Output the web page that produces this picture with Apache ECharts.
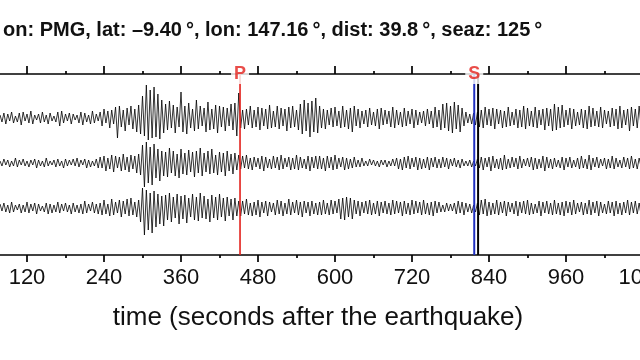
<!DOCTYPE html>
<html><head><meta charset="utf-8">
<script src="https://cdn.jsdelivr.net/npm/echarts@6/dist/echarts.min.js"></script>
<style>html,body{margin:0;padding:0;background:#fff}#c{width:640px;height:360px}</style>
</head><body><div id="c"></div>
<script>
// ---- data ----
const titleText = 'on: PMG, lat: \u20139.40\u2009\u00b0, lon: 147.16\u2009\u00b0, dist: 39.8\u2009\u00b0, seaz: 125\u2009\u00b0';
const axisName = 'time (seconds after the earthquake)';
const xMin = 0, xMax = 1080, xStep = 120;
const sampleStart = 78;   // seconds, first visible sample
const sampleStep = 3;     // seconds between samples
// trace amplitudes (relative units, positive = up)
const trace1 = [
 3,-4,5,-6,4,-3,6,-5,2,-4, 5,-7,6,-3,4,-5,7,-6,3,-2, 4,-5,6,-4,3,-6,5,-3,2,-4, 6,-8,7,-5,4,-3,5,-6,4,-2, 3,-5,6,-7,5,-4,3,-6,7,-5, 4,-3,
 6,-8,9,-5,7,-10,8,-6,11,-20,12,-9,8,-13,10,-7,12,-11,9,-14,13,
 -16,22,-18,33,-22,28,-20,31,-19,24,-21,18,-15,
 14,-12,17,-10,13,-15,11,-9,26,-14,12,-16,15,-10,9,-13,18,-11,12,-8, 10,-14,16,-12,9,-11,13,-15,12,-9,11,-13,10,-8,14,-12,15,-18,25,
 -10,8,-11,9,-7,12,-10,8,-9,11,-12,10,-8,9,-11,13,-10,7,-9,12, -11,10,-8,9,-13,11,-10,12,-9,8,-12,14,-16,18,-13,15,-19,17,-14,20,-15,
 12,-10,9,-11,8,-7,10,-9,11,-8,7,-10,12,-9,8,-11,10,-14,12,-8, 9,-10,7,-6,8,-9,10,-7,6,-8,9,-11,10,-7,8,-6,7,-9,11,-10, 8,-7,6,-9,10,-8,7,-6,9,-10,8,-7,6,-5,7,-8,9,-6,7,-10, 11,-9,8,
 -12,14,-10,15,-13,12,-15,16,-11,13,-14,10,-8,6,-5,
 4,-6,5,-7,6,
 -9,8,-10,11,-7,9,-8,10,-11,9,-6,8,-10,7,-9,11,-8,6,-7,9, -10,8,-9,12,-11,10,-8,7,-9,11,-10,8,-7,9,-12,10,-8,9,-13,14, -12,11,-10,13,-9,8,-7,10,-11,9,-8,6,-7,9,-10,8,-11,12,-9,10, -8,7,-9,11,-10,8,-6,7,-9,10,-8,9,-11,12,-10,8,-7,9,-13,11, -8,9,-10,12,-9
];
const trace2 = [
 2,-3,4,-2,3,-4,2,-3,5,-4, 3,-2,4,-3,2,-4,3,-2,4,-5, 3,-3,2,-4,5,-3,2,-2,3,-4, 4,-3,2,-5,4,-3,3,-2,4,-3, 5,-4,3,-2,4,-5,3,-4,2,-3, 4,-5,
 6,-5,7,-8,5,-6,8,-9,7,-5,6,-8,9,-7,6,-9,8,-6,7,-10,9,
 -12,18,-24,21,-20,16,-22,19,-15,14,-18,12,-13,
 11,-14,15,-10,12,-13,9,-15,14,-11,10,-12,13,-9,11,-14,12,-10,15,-13, 10,-9,12,-11,14,-10,8,-12,11,-9,10,-13,12,-8,9,-11,10,-7,8,
 -6,7,-5,8,-6,5,-7,6,-4,5,-6,7,-8,6,-5,4,-6,7,-5,6, -7,8,-6,5,-4,6,-7,5,-6,8,-7,6,-5,4,-6,7,-8,6,-5,7,-6,
 7,-6,5,-8,7,-5,6,-7,8,-6,5,-4,6,-7,5,-6,4,-5,6,-4, 3,-4,5,-3,2,-3,4,-2,3,-3,2,-4,3,-2,3,-4,2,-3,4,-3, 5,-6,4,-7,6,-5,7,-6,5,-4,6,-7,5,-6,4,-5,6,-7,5,-4, 6,-5,4,
 -5,6,-4,5,-6,4,-3,5,-4,3,-5,4,-3,2,-3,
 3,-4,2,-3,4,
 -5,6,-7,5,-4,6,-8,7,-5,4,-6,5,-7,8,-6,4,-5,6,-4,5, -6,7,-5,4,-3,5,-4,6,-7,5,-6,4,-5,7,-8,6,-5,4,-6,5, -4,3,-5,6,-7,5,-4,6,-5,3,-4,5,-6,7,-5,4,-6,8,-7,5, -4,6,-5,4,-3,5,-6,4,-5,7,-6,5,-4,3,-5,6,-4,5,-6,7, -5,4,-6,5,-4
];
const trace3 = [
 4,-3,5,-4,3,-5,6,-4,3,-2,4,-5,3,-4,6,-5,4,-3,5,-6, 4,-3,2,-4,5,-6,4,-5,3,-4,6,-5,4,-3,5,-4,3,-6,5,-4, 3,-5,4,-6,7,-5,4,-3,6,-5,4,-6,
 5,-7,8,-6,4,-8,9,-7,6,-5,8,-9,7,-6,9,-8,10,-7,6,-9,8,
 -14,20,-27,18,-22,15,-25,17,-19,14,-16,12,-18,
 13,-12,15,-14,11,-10,14,-16,12,-11,13,-15,10,-9,14,-12,11,-13,15,-10, 12,-11,9,-14,13,-10,11,-12,14,-9,10,-13,11,-8,9,-12,10,-8,7,
 -8,7,-6,9,-7,5,-8,6,-7,8,-9,6,-5,7,-8,6,-4,5,-7,8, -6,7,-8,5,-6,9,-7,6,-5,8,-7,6,-9,7,-5,6,-8,7,-6,5,-7,
 6,-7,8,-6,5,-7,8,-6,7,-5,9,-11,10,-12,11,-9,10,-11,8,-6, 7,-8,6,-5,7,-6,8,-7,5,-6,7,-8,6,-5,7,-6,5,-7,8,-6, 7,-5,6,-8,7,-6,5,-7,8,-6,7,-5,6,-7,8,-6,5,-7,6,-8, 7,-5,6,
 -4,3,-4,5,-3,4,-3,5,-6,7,-5,6,-7,5,-4,
 4,-5,3,-4,5,
 -7,8,-6,9,-8,6,-7,5,-6,8,-7,6,-5,7,-8,6,-4,5,-6,7, -8,6,-5,7,-6,8,-7,5,-6,4,-5,7,-8,6,-5,7,-6,5,-7,8, -6,5,-7,6,-8,7,-5,6,-7,8,-6,5,-4,6,-7,5,-6,8,-7,6, -5,7,-8,6,-5,4,-6,7,-5,6,-8,7,-6,5,-7,6,-5,8,-7,6, -5,7,-6,5,-7
];
const phaseNames = ['P', 'S'];
const phaseTimes = [452, 817];
const sSecondTime = 823;

// ---- layout ----
const yTop = 181;
const traceBase = [137, 92, 47];
const traces = [trace1, trace2, trace3];

const traceSeries = traces.map((tr, k) => ({
  type: 'line', showSymbol: false, silent: true, z: 3,
  lineStyle: { color: '#000', width: 0.8 },
  data: tr.map((v, i) => [sampleStart + i * sampleStep, traceBase[k] + v])
}));

const vline = (t, color, w) => ({
  type: 'line', showSymbol: false, silent: true, z: 4,
  lineStyle: { color: color, width: w },
  data: [[t, 0], [t, yTop]]
});

const axisCommon = {
  type: 'value', min: xMin, max: xMax, interval: xStep,
  splitLine: { show: false }, minorSplitLine: { show: false },
  axisLine: { lineStyle: { color: '#000', width: 1.7 } },
};

const chart = echarts.init(document.getElementById('c'), null, { renderer: 'canvas' });
chart.setOption({
  animation: false,
  backgroundColor: '#fff',
  title: {
    text: titleText, left: -2, top: 15,
    textStyle: { fontFamily: 'Liberation Sans', fontWeight: 'bold', fontSize: 20, color: '#111' }
  },
  grid: { left: -50, right: -3, top: 74, bottom: 105, containLabel: false, outerBoundsMode: 'none' },
  xAxis: [
    Object.assign({}, axisCommon, {
      position: 'bottom',
      axisTick: { length: 7, lineStyle: { color: '#000', width: 1.7 } },
      minorTick: { show: true, splitNumber: 2, length: 3, lineStyle: { color: '#000', width: 1.7 } },
      axisLabel: { fontFamily: 'Liberation Sans', fontSize: 22, color: '#111', margin: 12, formatter: v => String(v) },
      name: axisName, nameLocation: 'middle', nameGap: 50,
      nameTextStyle: { fontFamily: 'Liberation Sans', fontSize: 26, color: '#111', padding: [0, 0, 0, 43] }
    }),
    Object.assign({}, axisCommon, {
      position: 'top',
      axisTick: { length: 8, lineStyle: { color: '#000', width: 1.7 } },
      minorTick: { show: true, splitNumber: 2, length: 3, lineStyle: { color: '#000', width: 1.7 } },
      axisLabel: { show: false }
    })
  ],
  yAxis: { type: 'value', min: 0, max: yTop, show: false },
  series: traceSeries.concat([
    vline(phaseTimes[0], '#e3201b', 1.6),
    vline(phaseTimes[1], '#1f2fbf', 2),
    vline(sSecondTime, '#000', 2),
    {
      type: 'scatter', symbolSize: 0, z: 10, silent: true,
      data: phaseTimes.map((t, i) => ({ value: [t, yTop], name: phaseNames[i] })),
      label: {
        show: true, position: 'inside', formatter: p => p.name,
        fontFamily: 'Liberation Sans', fontWeight: 'bold', fontSize: 18, color: '#e3201b',
        backgroundColor: '#fff', padding: [1, 3, 1, 3]
      }
    }
  ])
});
</script></body></html>
